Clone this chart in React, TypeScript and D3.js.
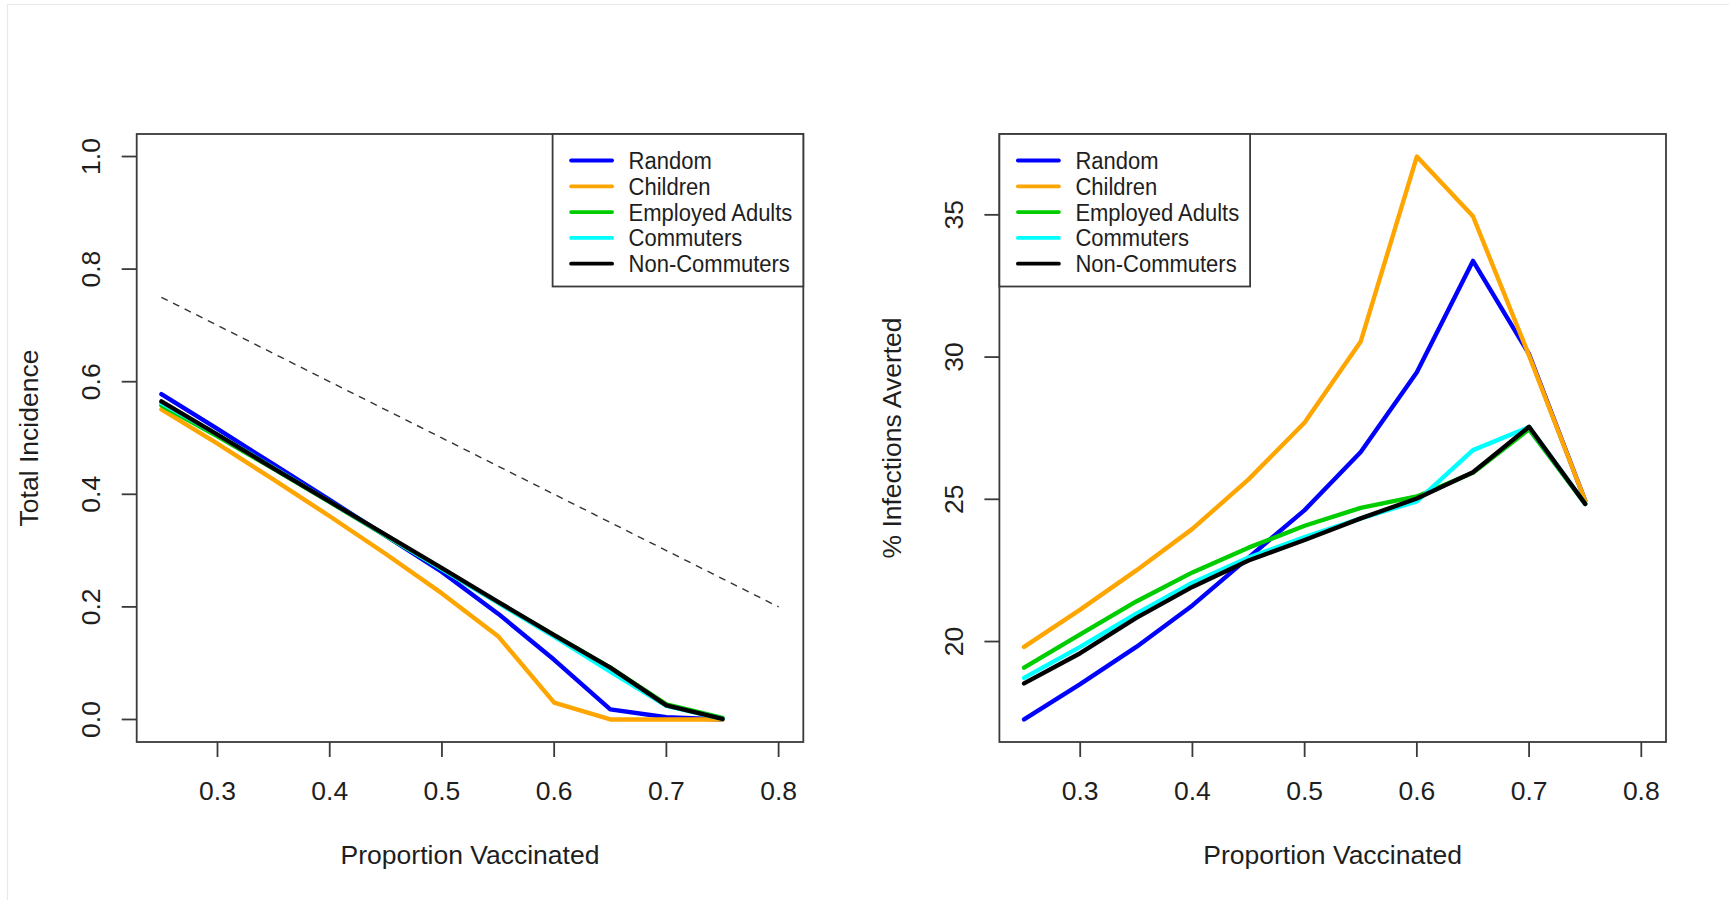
import React from 'react';
import * as d3 from 'd3';

// Vaccination coverage levels (x values shared by every series)
const proportions = [0.25, 0.3, 0.35, 0.4, 0.45, 0.5, 0.55, 0.6, 0.65, 0.7, 0.75];

const seriesNames = ['Random', 'Children', 'Employed Adults', 'Commuters', 'Non-Commuters'];
const seriesColors = ['#0000FF', '#FFA500', '#00CD00', '#00FFFF', '#000000'];

// Total incidence by targeting strategy
const incidenceRandom = [0.578, 0.516, 0.453, 0.39, 0.326, 0.262, 0.188, 0.106, 0.018, 0.004, 0.0];
const incidenceChildren = [0.551, 0.49, 0.426, 0.361, 0.294, 0.224, 0.148, 0.03, 0.0, 0.0, 0.0];
const incidenceEmployed = [0.558, 0.503, 0.445, 0.386, 0.326, 0.267, 0.208, 0.15, 0.092, 0.027, 0.003];
const incidenceCommuters = [0.562, 0.506, 0.447, 0.387, 0.327, 0.267, 0.207, 0.147, 0.085, 0.024, 0.001];
const incidenceNonCommuters = [0.565, 0.506, 0.446, 0.387, 0.328, 0.269, 0.209, 0.15, 0.092, 0.025, 0.001];

// Reference line: incidence with no indirect protection
const referenceX = [0.25, 0.8];
const referenceY = [0.75, 0.2];

// Percentage of infections averted by targeting strategy
const avertedRandom = [17.26, 18.5, 19.81, 21.27, 22.95, 24.62, 26.66, 29.47, 33.38, 30.1, 24.95];
const avertedChildren = [19.81, 21.12, 22.5, 23.96, 25.7, 27.7, 30.55, 37.05, 34.95, 30.05, 24.95];
const avertedEmployed = [19.08, 20.25, 21.41, 22.43, 23.3, 24.07, 24.7, 25.1, 25.93, 27.46, 24.84];
const avertedCommuters = [18.72, 19.81, 20.98, 22.07, 22.95, 23.67, 24.33, 24.93, 26.73, 27.54, 24.84];
const avertedNonCommuters = [18.53, 19.59, 20.83, 21.92, 22.85, 23.57, 24.33, 25.03, 25.95, 27.55, 24.84];

const xTicks = [0.3, 0.4, 0.5, 0.6, 0.7, 0.8];
const incidenceTicks = [0, 0.2, 0.4, 0.6, 0.8, 1.0];
const avertedTicks = [20, 25, 30, 35];

const FONT = '"Liberation Sans", Arial, Helvetica, sans-serif';
const TEXT = '#1e1e1e';
const FRAME = '#3a3a3a';

// R-style axis range: data range padded by 4% on each side
function pad(lo: number, hi: number): [number, number] {
  const r = hi - lo;
  return [lo - 0.04 * r, hi + 0.04 * r];
}

type PanelProps = {
  left: number;
  series: number[][];
  yDomain: [number, number];
  yTicks: number[];
  yFormat: (v: number) => string;
  yTitle: string;
  legendSide: 'left' | 'right';
  reference?: boolean;
};

function Panel({ left, series, yDomain, yTicks, yFormat, yTitle, legendSide, reference }: PanelProps) {
  const plotLeft = left + 136.7;
  const plotRight = plotLeft + 666.6;
  const plotTop = 134;
  const plotBottom = 742;

  const x = d3.scaleLinear().domain(pad(0.25, 0.8)).range([plotLeft, plotRight]);
  const y = d3.scaleLinear().domain(pad(yDomain[0], yDomain[1])).range([plotBottom, plotTop]);

  const line = d3
    .line<[number, number]>()
    .x((d) => x(d[0]))
    .y((d) => y(d[1]));

  const tickLen = 15;
  const legendW = 250.7;
  const legendH = 152.5;
  const legendX = legendSide === 'right' ? plotRight - legendW : plotLeft;
  const legendY = plotTop;
  const rowY = (i: number) => legendY + 26.5 + i * 25.8;

  return (
    <g>
      {reference && (
        <path
          d={line(referenceX.map((v, i) => [v, referenceY[i]]) as [number, number][]) || ''}
          fill="none"
          stroke="#333"
          strokeWidth={1.4}
          strokeDasharray="7 6"
        />
      )}
      {series.map((vals, si) => (
        <path
          key={seriesNames[si]}
          d={line(proportions.map((p, i) => [p, vals[i]]) as [number, number][]) || ''}
          fill="none"
          stroke={seriesColors[si]}
          strokeWidth={4.4}
          strokeLinejoin="round"
          strokeLinecap="round"
        />
      ))}

      {/* plot frame */}
      <rect
        x={plotLeft}
        y={plotTop}
        width={plotRight - plotLeft}
        height={plotBottom - plotTop}
        fill="none"
        stroke={FRAME}
        strokeWidth={1.8}
      />

      {/* x axis */}
      {xTicks.map((t) => (
        <g key={'x' + t}>
          <line x1={x(t)} x2={x(t)} y1={plotBottom} y2={plotBottom + tickLen} stroke={FRAME} strokeWidth={1.8} />
          <text x={x(t)} y={800} textAnchor="middle" fontFamily={FONT} fontSize={26.5} fill={TEXT}>
            {t.toFixed(1)}
          </text>
        </g>
      ))}
      <text
        x={(plotLeft + plotRight) / 2}
        y={864}
        textAnchor="middle"
        fontFamily={FONT}
        fontSize={26.5}
        fill={TEXT}
      >
        Proportion Vaccinated
      </text>

      {/* y axis */}
      {yTicks.map((t) => (
        <g key={'y' + t}>
          <line x1={plotLeft - tickLen} x2={plotLeft} y1={y(t)} y2={y(t)} stroke={FRAME} strokeWidth={1.8} />
          <text
            transform={`translate(${left + 100},${y(t)}) rotate(-90)`}
            textAnchor="middle"
            fontFamily={FONT}
            fontSize={26.5}
            fill={TEXT}
          >
            {yFormat(t)}
          </text>
        </g>
      ))}
      <text
        transform={`translate(${left + 38},${(plotTop + plotBottom) / 2}) rotate(-90)`}
        textAnchor="middle"
        fontFamily={FONT}
        fontSize={26.5}
        fill={TEXT}
      >
        {yTitle}
      </text>

      {/* legend */}
      <rect x={legendX} y={legendY} width={legendW} height={legendH} fill="#fff" stroke={FRAME} strokeWidth={1.8} />
      {seriesNames.map((name, i) => (
        <g key={'lg' + name}>
          <line
            x1={legendX + 18.5}
            x2={legendX + 59.5}
            y1={rowY(i)}
            y2={rowY(i)}
            stroke={seriesColors[i]}
            strokeWidth={3.8}
            strokeLinecap="round"
          />
          <text
            transform={`translate(${legendX + 76},${rowY(i) + 8.5}) scale(1,1.07)`}
            fontFamily={FONT}
            fontSize={22}
            fill={TEXT}
          >
            {name}
          </text>
        </g>
      ))}
    </g>
  );
}

export default function App() {
  const incidenceSeries = [
    incidenceRandom,
    incidenceChildren,
    incidenceEmployed,
    incidenceCommuters,
    incidenceNonCommuters,
  ];
  const avertedSeries = [avertedRandom, avertedChildren, avertedEmployed, avertedCommuters, avertedNonCommuters];
  const avertedExtent = d3.extent(avertedSeries.flat()) as [number, number];

  return (
    <svg
      width={1729}
      height={900}
      style={{ position: 'absolute', top: 0, left: 0, display: 'block', background: '#fff' }}
    >
      <rect x={0} y={0} width={1729} height={900} fill="#fff" />
      {/* thin outer border */}
      <line x1={7.5} x2={1729} y1={4.5} y2={4.5} stroke="#e8e8e8" strokeWidth={1.2} />
      <line x1={7.5} x2={7.5} y1={4.5} y2={900} stroke="#e8e8e8" strokeWidth={1.2} />

      <Panel
        left={0}
        series={incidenceSeries}
        yDomain={[0, 1]}
        yTicks={incidenceTicks}
        yFormat={(v) => v.toFixed(1)}
        yTitle="Total Incidence"
        legendSide="right"
        reference
      />
      <Panel
        left={862.7}
        series={avertedSeries}
        yDomain={avertedExtent}
        yTicks={avertedTicks}
        yFormat={(v) => String(v)}
        yTitle="% Infections Averted"
        legendSide="left"
      />
    </svg>
  );
}
